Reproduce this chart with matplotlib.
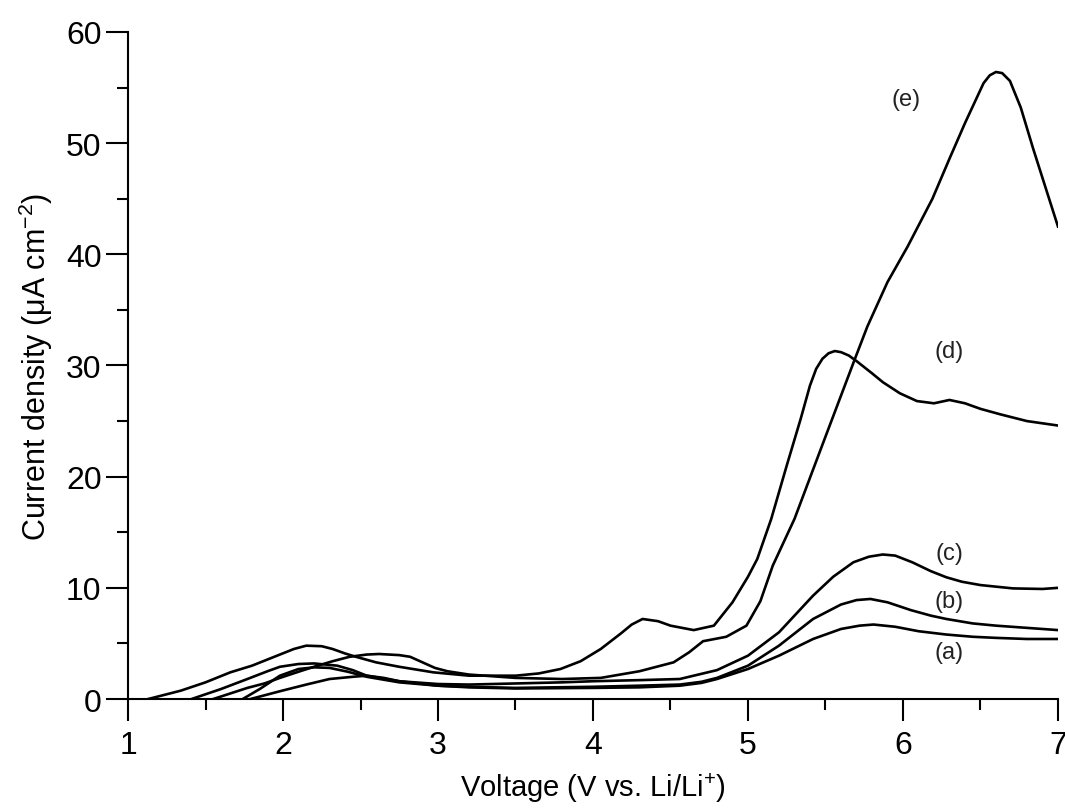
import matplotlib
matplotlib.use("Agg")
import matplotlib.pyplot as plt
from matplotlib.ticker import MultipleLocator

plt.rcParams['font.family'] = ['Liberation Sans', 'DejaVu Sans']
plt.rcParams['mathtext.fontset'] = 'custom'
plt.rcParams['mathtext.rm'] = 'Liberation Sans'
plt.rcParams['mathtext.it'] = 'Liberation Sans'

# curves (voltage, current density)
v_a = [1.79, 1.98, 2.15, 2.3, 2.45, 2.54, 2.65, 2.75, 3.0, 3.2, 3.5, 4.0, 4.3, 4.56, 4.7, 4.8,
       5.0, 5.2, 5.42, 5.6, 5.72, 5.81, 5.95, 6.1, 6.28, 6.45, 6.6, 6.8, 7.0]
i_a = [0.0, 0.7, 1.3, 1.8, 2.0, 2.1, 1.9, 1.6, 1.2, 1.05, 0.95, 1.0, 1.05, 1.2, 1.45, 1.8,
       2.7, 3.9, 5.4, 6.3, 6.6, 6.7, 6.5, 6.1, 5.8, 5.6, 5.5, 5.4, 5.4]

v_b = [1.74, 1.85, 1.98, 2.1, 2.2, 2.3, 2.42, 2.54, 2.75, 3.0, 3.2, 3.5, 4.0, 4.3, 4.56, 4.7, 4.8,
       5.0, 5.2, 5.42, 5.6, 5.7, 5.79, 5.9, 6.05, 6.18, 6.28, 6.45, 6.6, 6.8, 7.0]
i_b = [0.0, 0.9, 2.1, 2.7, 2.85, 2.8, 2.45, 2.0, 1.5, 1.2, 1.1, 1.0, 1.1, 1.2, 1.3, 1.55, 1.9,
       3.0, 4.8, 7.2, 8.5, 8.9, 9.0, 8.7, 8.0, 7.5, 7.2, 6.8, 6.6, 6.4, 6.2]

v_c = [1.41, 1.6, 1.77, 1.9, 1.98, 2.1, 2.2, 2.35, 2.45, 2.54, 2.75, 3.0, 3.2, 3.5, 3.8, 4.0, 4.3,
       4.56, 4.8, 5.0, 5.2, 5.42, 5.55, 5.68, 5.78, 5.87, 5.95, 6.06, 6.18, 6.28, 6.38, 6.5, 6.71,
       6.9, 7.0]
i_c = [0.0, 0.9, 1.8, 2.5, 2.9, 3.15, 3.2, 3.0, 2.6, 2.1, 1.6, 1.35, 1.3, 1.4, 1.5, 1.6, 1.7,
       1.8, 2.6, 3.9, 6.0, 9.3, 11.0, 12.3, 12.8, 13.0, 12.9, 12.3, 11.5, 10.95, 10.55, 10.25, 9.95,
       9.9, 10.0]

v_d = [1.13, 1.34, 1.5, 1.66, 1.8, 1.98, 2.07, 2.15, 2.25, 2.32, 2.4, 2.47, 2.6, 2.75, 2.97, 3.2,
       3.5, 3.65, 3.79, 3.92, 4.05, 4.18, 4.25, 4.32, 4.42, 4.5, 4.65, 4.78, 4.9, 5.0, 5.06, 5.15,
       5.25, 5.34, 5.4, 5.44, 5.48, 5.52, 5.56, 5.6, 5.65, 5.7, 5.8, 5.87, 5.98, 6.09, 6.2, 6.3,
       6.4, 6.5, 6.63, 6.8, 7.0]
i_d = [0.0, 0.75, 1.5, 2.4, 3.0, 4.0, 4.5, 4.8, 4.75, 4.5, 4.1, 3.8, 3.3, 2.9, 2.4, 2.1,
       2.1, 2.3, 2.7, 3.4, 4.5, 5.9, 6.7, 7.2, 7.0, 6.6, 6.2, 6.6, 8.7, 11.0, 12.6, 16.2,
       21.0, 25.2, 28.2, 29.7, 30.6, 31.1, 31.3, 31.2, 30.9, 30.4, 29.3, 28.5, 27.5, 26.8, 26.6, 26.9,
       26.6, 26.1, 25.6, 25.0, 24.6]

v_e = [1.55, 1.66, 1.77, 1.88, 1.98, 2.11, 2.2, 2.32, 2.43, 2.54, 2.62, 2.75, 2.82, 2.9, 2.98,
       3.06, 3.2, 3.5, 3.8, 4.05, 4.3, 4.52, 4.62, 4.71, 4.86, 4.99, 5.08, 5.16, 5.3, 5.5,
       5.69, 5.77, 5.9, 6.03, 6.19, 6.3, 6.4, 6.48, 6.52, 6.56, 6.6, 6.64, 6.69, 6.76, 6.84,
       6.92, 7.0]
i_e = [0.0, 0.5, 1.0, 1.4, 1.9, 2.5, 2.9, 3.4, 3.8, 4.0, 4.05, 3.95, 3.8, 3.3, 2.8,
       2.5, 2.2, 1.9, 1.8, 1.9, 2.5, 3.3, 4.2, 5.2, 5.6, 6.6, 8.8, 12.0, 16.2, 23.6,
       30.6, 33.5, 37.5, 40.7, 45.0, 48.6, 51.8, 54.2, 55.4, 56.1, 56.4, 56.3, 55.6, 53.2, 49.5,
       46.0, 42.5]

curves = [(v_a, i_a), (v_b, i_b), (v_c, i_c), (v_d, i_d), (v_e, i_e)]

labels = ['(a)', '(b)', '(c)', '(d)', '(e)']
label_v = [6.3, 6.3, 6.3, 6.3, 6.02]
label_i = [4.2, 8.8, 13.1, 31.3, 54.0]

fig = plt.figure(figsize=(10.65, 8.12), dpi=100)
ax = fig.add_axes([0.1202, 0.1379, 0.8732, 0.8215])

for v, i in curves:
    ax.plot(v, i, color='black', linewidth=1.9, solid_joinstyle='round')

for lab, x, y in zip(labels, label_v, label_i):
    ax.text(x, y, lab, fontsize=17, ha='center', va='center', color='#222222')

ax.set_xlim(1, 7)
ax.set_ylim(0, 60)
ax.xaxis.set_major_locator(MultipleLocator(1))
ax.xaxis.set_minor_locator(MultipleLocator(0.5))
ax.yaxis.set_major_locator(MultipleLocator(10))
ax.yaxis.set_minor_locator(MultipleLocator(5))

for s in ['top', 'right']:
    ax.spines[s].set_visible(False)
for s in ['left', 'bottom']:
    ax.spines[s].set_linewidth(1.5)

ax.tick_params(which='major', direction='out', length=16, width=1.5, labelsize=23, pad=6)
ax.tick_params(which='minor', direction='out', length=8, width=1.5)
ax.tick_params(axis='y', which='major', pad=3)

ax.set_xlabel('Voltage (V vs. Li/Li$^{+}$)', fontsize=21, labelpad=8)
ax.set_ylabel('Current density (\u03bcA cm$^{-2}$)', fontsize=22, labelpad=8)

plt.savefig('out.png', dpi=100)
